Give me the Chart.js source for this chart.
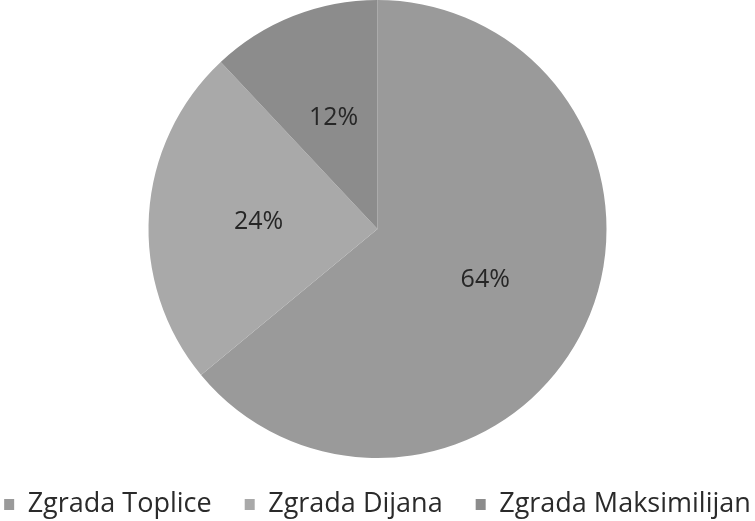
<!DOCTYPE html>
<html>
<head>
<meta charset="utf-8">
<script src="https://cdn.jsdelivr.net/npm/chart.js@4/dist/chart.umd.min.js"></script>
<style>
  html, body { margin: 0; padding: 0; background: #ffffff; }
  #wrap { width: 755px; height: 521px; }
</style>
</head>
<body>
<div id="wrap"><canvas id="pie"></canvas></div>
<script>
// Share of each building (percent)
const buildings = ['Zgrada Toplice', 'Zgrada Dijana', 'Zgrada Maksimilijan'];
const shares = [64, 24, 12];
const sliceColors = ['#9a9a9a', '#a9a9a9', '#8c8c8c'];

const FONT = '"Open Sans", "Noto Sans", sans-serif';

// Percent labels placed inside each slice, about halfway out
const sliceLabels = {
  id: 'sliceLabels',
  afterDatasetsDraw(chart) {
    const ctx = chart.ctx;
    const meta = chart.getDatasetMeta(0);
    ctx.save();
    ctx.font = '25px ' + FONT;
    ctx.fillStyle = '#262626';
    ctx.textAlign = 'center';
    ctx.textBaseline = 'middle';
    meta.data.forEach((arc, i) => {
      const p = arc.getProps(['x', 'y', 'startAngle', 'endAngle', 'outerRadius'], true);
      const mid = (p.startAngle + p.endAngle) / 2;
      const r = p.outerRadius * 0.52;
      ctx.fillText(shares[i] + '%', p.x + Math.cos(mid) * r, p.y + Math.sin(mid) * r);
    });
    ctx.restore();
  }
};

new Chart(document.getElementById('pie'), {
  type: 'pie',
  data: {
    labels: buildings,
    datasets: [{
      data: shares,
      backgroundColor: sliceColors,
      borderColor: sliceColors,
      borderWidth: 0
    }]
  },
  options: {
    responsive: true,
    maintainAspectRatio: false,
    animation: false,
    // negative side padding lets the wide legend row use the full canvas width
    layout: { padding: { top: 0, bottom: -7, left: -40, right: -40 } },
    plugins: {
      legend: {
        position: 'bottom',
        labels: {
          font: { family: FONT, size: 27 },
          color: '#2a2a2a',
          boxWidth: 10,
          boxHeight: 11,
          padding: 33
        }
      },
      tooltip: { enabled: false }
    }
  },
  plugins: [sliceLabels]
});
</script>
</body>
</html>
